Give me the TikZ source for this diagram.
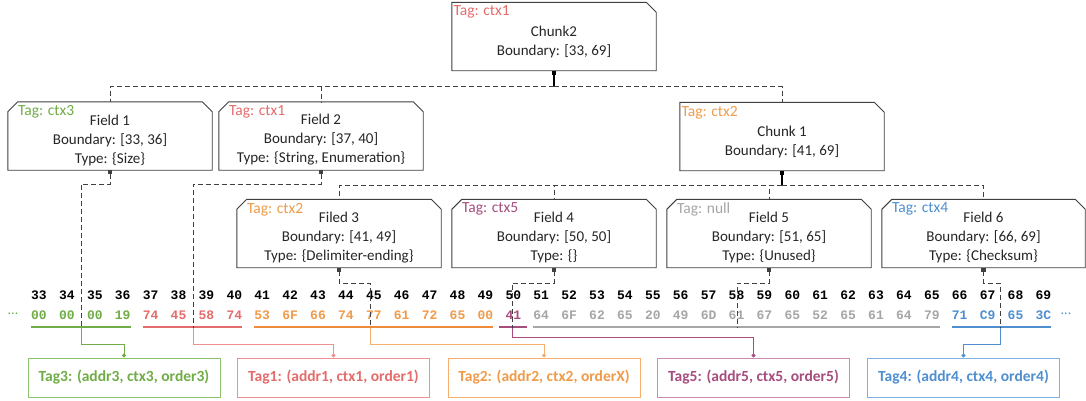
\documentclass[tikz,border=0pt]{standalone}
\usepackage{fontspec}
\setmainfont{Carlito}
\newfontfamily\hexfont{Liberation Mono}
\usetikzlibrary{arrows.meta,calc}
\definecolor{boxgray}{HTML}{404040}
\definecolor{cg}{HTML}{70AD47}
\definecolor{cgbox}{HTML}{8DC46D}
\definecolor{cr}{HTML}{E46C6C}
\definecolor{crbox}{HTML}{EE9090}
\definecolor{co}{HTML}{EF9B4A}
\definecolor{coline}{HTML}{ED8B3A}
\definecolor{cobox}{HTML}{F5B070}
\definecolor{cp}{HTML}{A64D7F}
\definecolor{cpbox}{HTML}{C98BAE}
\definecolor{cgr}{HTML}{A6A6A6}
\definecolor{cb}{HTML}{4F8FD0}
\definecolor{cbbox}{HTML}{7EB0E2}
\newcommand\chamboth[1]{\draw[boxline] (#1.south west) -- ($(#1.north west)+(0,10)$) -- ($(#1.north west)+(10,0)$) -- ($(#1.north east)+(-10,0)$) -- ($(#1.north east)+(0,10)$) -- (#1.south east) -- cycle;}
\newcommand\chamne[1]{\draw[boxline] (#1.south west) -- (#1.north west) -- ($(#1.north east)+(-10,0)$) -- ($(#1.north east)+(0,10)$) -- (#1.south east) -- cycle;}
\begin{document}
\begin{tikzpicture}[x=1pt,y=-1pt,
  box/.style={rectangle, minimum width=204pt, minimum height=68pt, inner sep=0pt},
  boxline/.style={draw=boxgray, line width=0.9pt, line join=miter},
  btxt/.style={align=center, font=\fontsize{15}{19}\selectfont, text=black!85, inner sep=0pt},
  tagl/.style={anchor=west, font=\fontsize{15.5}{17}\selectfont, inner sep=0pt},
  dashc/.style={draw=boxgray, line width=0.9pt, dash pattern=on 5pt off 3pt},
  solidc/.style={draw=black, line width=1.4pt},
  sqtip/.style={{Square[length=4pt,width=4.5pt]}-},
  idx/.style={font={\fontsize{13}{15}\selectfont\hexfont\bfseries}, inner sep=0pt, text=black},
  hex/.style={font={\fontsize{13}{15}\selectfont\hexfont\bfseries}, inner sep=0pt},
  uline/.style={line width=2.2pt},
  cconn/.style={line width=1pt, -{Circle[length=4pt]}},
  tagbox/.style={draw, line width=1pt, minimum width=192pt, minimum height=39pt, inner sep=0pt,
    font={\fontsize{15.5}{17}\selectfont\bfseries}}
]
\fill[white] (0,0) rectangle (1086,400);
\useasboundingbox (0,0) rectangle (1086,400);

% tree boxes
\node[box] (c2) at (554,36.5) {};
\node[box] (f1) at (110,136) {};
\node[box] (f2) at (321,136) {};
\node[box] (c1) at (782,136.5) {};
\node[box] (f3) at (339,233.5) {};
\node[box] (f4) at (554,233.5) {};
\node[box] (f5) at (769,233.5) {};
\node[box,minimum width=203pt] (f6) at (983.5,233.5) {};
\chamne{c2}
\chamne{c1}
\chamboth{f1}
\chamboth{f2}
\chamboth{f3}
\chamboth{f4}
\chamboth{f5}
\chamboth{f6}

% box texts
\node[btxt] (c2t) at ($(c2.center)+(0,5)$) {Chunk2\\Boundary: [33, 69]};
\node[btxt] (c1t) at ($(c1.center)+(0,5)$) {Chunk 1\\Boundary: [41, 69]};
\node[btxt] (f1t) at ($(f1.center)+(0,4)$) {Field 1\\Boundary: [33, 36]\\Type: \{Size\}};
\node[btxt] (f2t) at ($(f2.center)+(0,4)$) {Field 2\\Boundary: [37, 40]\\Type: \{String, Enumeration\}};
\node[btxt] (f3t) at ($(f3.center)+(0,4)$) {Filed 3\\Boundary: [41, 49]\\Type: \{Delimiter-ending\}};
\node[btxt] (f4t) at ($(f4.center)+(0,4)$) {Field 4\\Boundary: [50, 50]\\Type: \{\}};
\node[btxt] (f5t) at ($(f5.center)+(0,4)$) {Field 5\\Boundary: [51, 65]\\Type: \{Unused\}};
\node[btxt] (f6t) at ($(f6.center)+(0,4)$) {Field 6\\Boundary: [66, 69]\\Type: \{Checksum\}};

% tag labels
\node[tagl,text=cr] (c2g) at ($(c2.north west)+(1.5,10)$) {Tag: ctx1};
\node[tagl,text=co] (c1g) at ($(c1.north west)+(1.5,10)$) {Tag: ctx2};
\node[tagl,text=cg] (f1g) at ($(f1.north west)+(10,10)$) {Tag: ctx3};
\node[tagl,text=cr] (f2g) at ($(f2.north west)+(10,10)$) {Tag: ctx1};
\node[tagl,text=co] (f3g) at ($(f3.north west)+(10,10)$) {Tag: ctx2};
\node[tagl,text=cp] (f4g) at ($(f4.north west)+(10,10)$) {Tag: ctx5};
\node[tagl,text=cgr] (f5g) at ($(f5.north west)+(10,10)$) {Tag: null};
\node[tagl,text=cb] (f6g) at ($(f6.north west)+(10,10)$) {Tag: ctx4};

% tree connectors
\draw[solidc,sqtip] (c2.south) -- ++(0,16) coordinate (j1);
\draw[dashc] (j1) -| (f1.north);
\draw[dashc] (j1) -| (f2.north);
\draw[dashc] (j1) -| (c1.north);
\draw[solidc,sqtip] (c1.south) -- ++(0,15) coordinate (j2);
\draw[dashc] (j2) -| (f3.north);
\draw[dashc] (j2) -| (f4.north);
\draw[dashc] (j2) -| (f5.north);
\draw[dashc] (j2) -| (f6.north);

% bytes
\foreach \k/\v/\c in {33/00/cg,34/00/cg,35/00/cg,36/19/cg,
  37/74/cr,38/45/cr,39/58/cr,40/74/cr,
  41/53/co,42/6F/co,43/66/co,44/74/co,45/77/co,46/61/co,47/72/co,48/65/co,49/00/co,
  50/41/cp,
  51/64/cgr,52/6F/cgr,53/62/cgr,54/65/cgr,55/20/cgr,56/49/cgr,57/6D/cgr,58/61/cgr,
  59/67/cgr,60/65/cgr,61/52/cgr,62/65/cgr,63/61/cgr,64/64/cgr,65/79/cgr,
  66/71/cb,67/C9/cb,68/65/cb,69/3C/cb}{
  \node[idx] (i\k) at ({39+(\k-33)*27.9},295) {\k};
  \node[hex,text=\c] (h\k) at ({39+(\k-33)*27.9},315) {\v};
}
\node[font=\fontsize{14}{15}\selectfont, text=cg, inner sep=0pt] (ldots) at (13,314) {...};
\node[font=\fontsize{14}{15}\selectfont, text=cb, inner sep=0pt] (rdots) at (1066,314) {...};

% underlines
\draw[uline,draw=cg] ($(h33.center)+(-8,12)$) -- ($(h36.center)+(8,12)$);
\draw[uline,draw=cr] ($(h37.center)+(-8,12)$) -- ($(h40.center)+(8,12)$);
\draw[uline,draw=coline] ($(h41.center)+(-8,12)$) -- ($(h49.center)+(8,12)$);
\draw[uline,draw=cp] ($(h50.center)+(-14,12)$) -- ($(h50.center)+(14,12)$);
\draw[uline,draw=cgr] ($(h51.center)+(-8,12)$) -- ($(h65.center)+(8,12)$);
\draw[uline,draw=cb] ($(h66.center)+(-8,12)$) -- ($(h69.center)+(8,12)$);

% tag boxes
\node[tagbox,draw=cgbox,text=cg] (t3) at (124,377.5) {Tag3: (addr3, ctx3, order3)};
\node[tagbox,draw=crbox,text=cr] (t1) at (333.5,377.5) {Tag1: (addr1, ctx1, order1)};
\node[tagbox,draw=cobox,text=co] (t2) at (544,377.5) {Tag2: (addr2, ctx2, orderX)};
\node[tagbox,draw=cpbox,text=cp] (t5) at (753.5,377.5) {Tag5: (addr5, ctx5, order5)};
\node[tagbox,draw=cbbox,text=cb] (t4) at (963.5,377.5) {Tag4: (addr4, ctx4, order4)};

% field-to-bytes connectors
\coordinate (d1) at (81,328);
\coordinate (d2) at (193,328);
\coordinate (d3) at (370,328);
\coordinate (d4) at (512,328);
\coordinate (d5) at (737,328);
\coordinate (d6) at (1000,328);
\draw[dashc,sqtip] (f1.south) |- (81,184) -- (d1);
\draw[dashc,sqtip] (f2.south) |- (193,184) -- (d2);
\draw[dashc,sqtip] (f3.south) |- (370,283) -- (d3);
\draw[dashc,sqtip] (f4.south) |- (512,283) -- (d4);
\draw[dashc,sqtip] (f5.south) |- (737,283) -- (d5);
\draw[dashc,sqtip] (f6.south) |- (1000,283) -- (d6);

% bytes-to-tag connectors
\draw[cconn,draw=cg] (d1) -- (81,344) -| (t3.north);
\draw[cconn,draw=crbox] (d2) -- (193,344) -| (t1.north);
\draw[cconn,draw=cobox] (d3) -- (370,344) -| (t2.north);
\draw[cconn,draw=cp] (d4) -- (512,337) -| (t5.north);
\draw[cconn,draw=cb] (d6) -- (1000,344) -| (t4.north);
\end{tikzpicture}
\end{document}
